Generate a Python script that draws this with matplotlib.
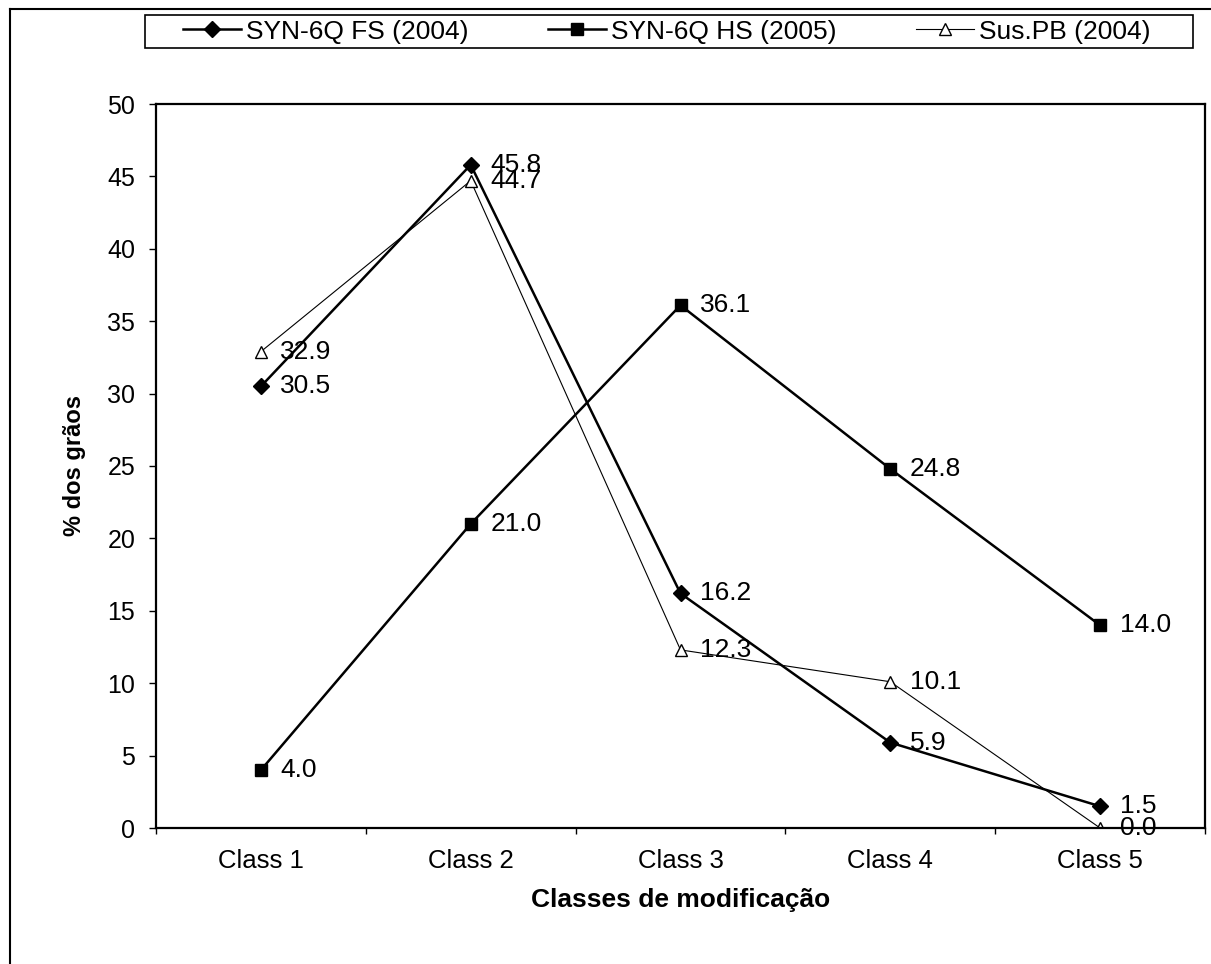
import matplotlib
matplotlib.use("Agg")
import matplotlib.pyplot as plt
from matplotlib.lines import Line2D
from matplotlib.patches import Rectangle
import numpy as np

plt.rcParams['font.family'] = ['Liberation Sans', 'DejaVu Sans']

# data
classes = ['Class 1', 'Class 2', 'Class 3', 'Class 4', 'Class 5']
fs_2004 = [30.5, 45.8, 16.2, 5.9, 1.5]
hs_2005 = [4.0, 21.0, 36.1, 24.8, 14.0]
sus_pb_2004 = [32.9, 44.7, 12.3, 10.1, 0.0]
series_names = ['SYN-6Q FS (2004)', 'SYN-6Q HS (2005)', 'Sus.PB (2004)']
y_ticks = [0, 5, 10, 15, 20, 25, 30, 35, 40, 45, 50]

W, H = 1211, 964
fig = plt.figure(figsize=(W / 100, H / 100), dpi=100)
ax = fig.add_axes([156 / W, 1 - 828 / H, 1049 / W, 724 / H])

x = np.arange(len(classes))
l1, = ax.plot(x, fs_2004, color='black', lw=1.8, marker='D', ms=8, mfc='black', mec='black')
l2, = ax.plot(x, hs_2005, color='black', lw=1.8, marker='s', ms=9, mfc='black', mec='black')
l3, = ax.plot(x, sus_pb_2004, color='black', lw=0.8, marker='^', ms=9, mfc='white', mec='black', mew=1.0)

# value labels next to points
for vals in (fs_2004, hs_2005, sus_pb_2004):
    for xi, v in zip(x, vals):
        ax.annotate(f'{v:.1f}', (xi, v), xytext=(14, 0), textcoords='offset points',
                    va='center', ha='left', fontsize=19)

ax.set_xlim(-0.5, len(classes) - 0.5)
ax.set_ylim(0, 50)
ax.set_xticks(np.arange(len(classes) + 1) - 0.5)
ax.set_xticklabels([])
ax.set_xticks(x, minor=True)
ax.set_xticklabels(classes, minor=True, fontsize=18.5)
ax.tick_params(axis='x', which='minor', length=0, pad=15)
ax.tick_params(axis='x', which='major', direction='out', length=4, width=1)
ax.set_yticks(y_ticks)
ax.set_yticklabels([str(t) for t in y_ticks], fontsize=18)
ax.tick_params(axis='y', direction='out', length=5, width=1, pad=10)

for side in ['left', 'bottom', 'right', 'top']:
    ax.spines[side].set_linewidth(1.6)

ax.set_ylabel('% dos grãos', fontsize=17, fontweight='bold', labelpad=15)
ax.set_xlabel('Classes de modificação', fontsize=19, fontweight='bold', labelpad=11)

# legend above the plot area, boxed like the original
fig.legend([l1, l2, l3], series_names, ncol=3, loc='center left',
           bbox_to_anchor=(183 / W, 1 - 31.5 / H), frameon=False, fontsize=19,
           handlelength=2.2, borderpad=0, borderaxespad=0, handletextpad=0.2,
           columnspacing=3.0)
fig.add_artist(Rectangle((145 / W, 1 - 48 / H), 1048 / W, 33 / H, transform=fig.transFigure,
                         fill=False, edgecolor='black', lw=1.2))

# outer frame lines (top and left)
fig.add_artist(Line2D([10 / W, 1], [1 - 9 / H, 1 - 9 / H], color='black', lw=1.5))
fig.add_artist(Line2D([10 / W, 10 / W], [0, 1 - 9 / H], color='black', lw=1.5))

fig.savefig('out.png', dpi=100)
